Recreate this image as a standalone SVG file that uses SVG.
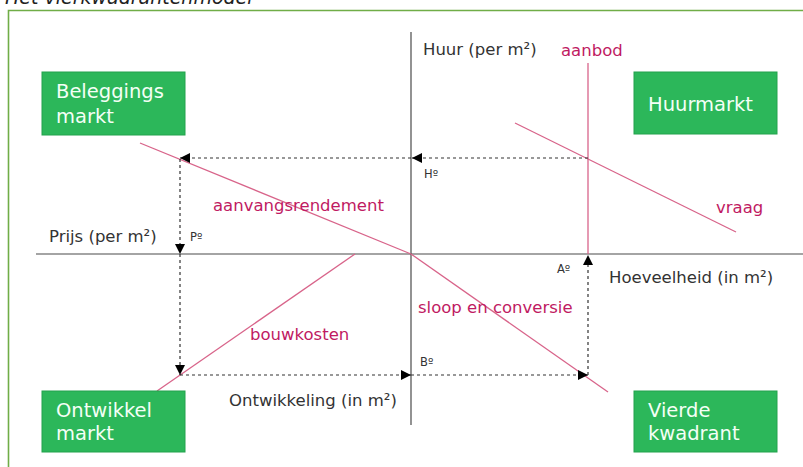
<svg xmlns="http://www.w3.org/2000/svg" width="803" height="467" viewBox="0 0 803 467">
  <style>
    .lbl { font-family: "DejaVu Sans", Verdana, sans-serif; font-size: 16.5px; fill: #333; }
    .red { font-family: "DejaVu Sans", Verdana, sans-serif; font-size: 16.5px; fill: #c01a62; }
    .sup { font-family: "DejaVu Sans", Verdana, sans-serif; font-size: 11.5px; fill: #333; }
    .box rect { fill: #2cb75a; stroke: #23a24d; stroke-width: 1; }
    .box text { font-family: "DejaVu Sans", Verdana, sans-serif; font-size: 19.5px; fill: #f4fff6; }
    .axis { stroke: #4a4a4a; stroke-width: 1.2; fill: none; }
    .curve { stroke: #d8648a; stroke-width: 1.3; fill: none; }
    .dash { stroke: #333; stroke-width: 1.2; stroke-dasharray: 3 3; fill: none; }
  </style>
  <defs>
    <marker id="arrow" viewBox="0 0 10 10" refX="10" refY="5" markerWidth="10" markerHeight="10" markerUnits="userSpaceOnUse" orient="auto">
      <path d="M0,0 L10,5 L0,10 Z" fill="#000"/>
    </marker>
  </defs>

  <rect width="803" height="467" fill="#ffffff"/>

  <!-- caption, clipped at the top -->
  <text x="5" y="4" font-family="DejaVu Sans, Verdana, sans-serif" font-style="italic" font-size="19" fill="#222">Het vierkwadrantenmodel</text>

  <!-- frame -->
  <path d="M8.5,470 V10.5 H810" fill="none" stroke="#70ad47" stroke-width="1.6"/>

  <!-- axes -->
  <g id="axes">
    <line class="axis" x1="411" y1="32" x2="411" y2="425"/>
    <line class="axis" x1="36" y1="254" x2="803" y2="254"/>
  </g>

  <!-- market curves -->
  <g id="curves">
    <line class="curve" x1="588" y1="63" x2="588" y2="254"/>
    <line class="curve" x1="515" y1="123" x2="736" y2="232"/>
    <line class="curve" x1="140" y1="143" x2="411" y2="254"/>
    <line class="curve" x1="411" y1="254" x2="608" y2="392"/>
    <line class="curve" x1="355" y1="254" x2="157" y2="391"/>
  </g>

  <!-- connectors: the dashed cycle -->
  <g id="connectors">
    <line class="dash" x1="588" y1="158" x2="412" y2="158" marker-end="url(#arrow)"/>
    <line class="dash" x1="411" y1="158" x2="180" y2="158" marker-end="url(#arrow)"/>
    <line class="dash" x1="180" y1="159" x2="180" y2="254" marker-end="url(#arrow)"/>
    <line class="dash" x1="180" y1="254" x2="180" y2="375" marker-end="url(#arrow)"/>
    <line class="dash" x1="180" y1="375" x2="411" y2="375" marker-end="url(#arrow)"/>
    <line class="dash" x1="411" y1="375" x2="588" y2="375" marker-end="url(#arrow)"/>
    <line class="dash" x1="588" y1="375" x2="588" y2="255" marker-end="url(#arrow)" stroke="#777"/>
  </g>

  <!-- quadrant boxes -->
  <g id="beleggingsmarkt" class="box">
    <rect x="42" y="72" width="143" height="63"/>
    <text x="56" y="98">Beleggings</text>
    <text x="56" y="123">markt</text>
  </g>
  <g id="huurmarkt" class="box">
    <rect x="634" y="72" width="143" height="62"/>
    <text x="648" y="111">Huurmarkt</text>
  </g>
  <g id="ontwikkelmarkt" class="box">
    <rect x="42" y="391" width="143" height="61"/>
    <text x="56" y="417">Ontwikkel</text>
    <text x="56" y="440">markt</text>
  </g>
  <g id="vierdekwadrant" class="box">
    <rect x="634" y="391" width="143" height="61"/>
    <text x="648" y="417">Vierde</text>
    <text x="648" y="440">kwadrant</text>
  </g>

  <!-- axis labels -->
  <g id="labels">
    <text class="lbl" x="423" y="55">Huur (per m²)</text>
    <text class="lbl" x="49" y="242">Prijs (per m²)</text>
    <text class="lbl" x="609" y="283">Hoeveelheid (in m²)</text>
    <text class="lbl" x="229" y="406">Ontwikkeling (in m²)</text>

    <text class="red" x="561" y="56">aanbod</text>
    <text class="red" x="716" y="213">vraag</text>
    <text class="red" x="213" y="211">aanvangsrendement</text>
    <text class="red" x="418" y="313">sloop en conversie</text>
    <text class="red" x="250" y="340">bouwkosten</text>

    <text class="sup" x="424" y="178">Hº</text>
    <text class="sup" x="190" y="241">Pº</text>
    <text class="sup" x="557" y="273">Aº</text>
    <text class="sup" x="420" y="366">Bº</text>
  </g>
</svg>
